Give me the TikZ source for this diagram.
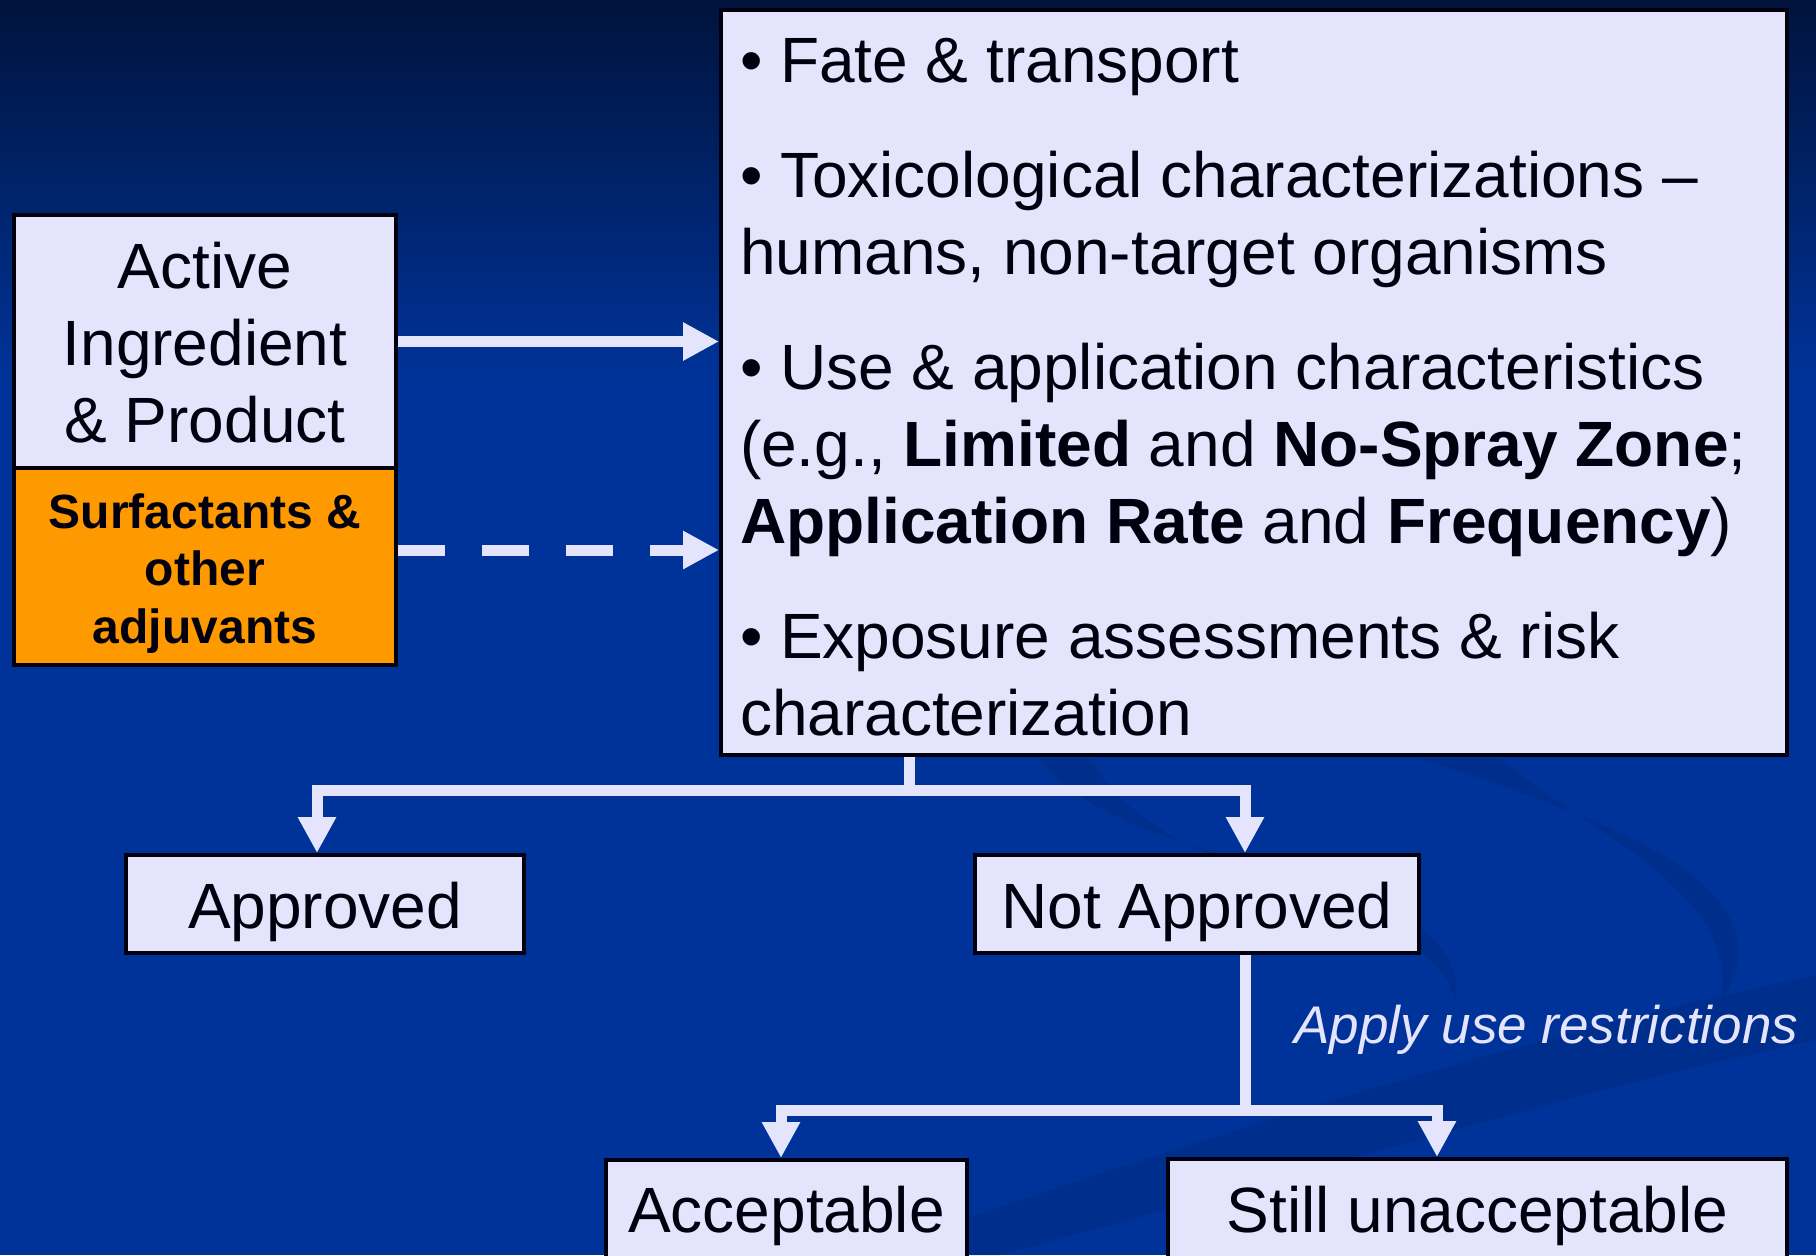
\documentclass[tikz,border=0pt]{standalone}
\usepackage{fontspec}
\setmainfont{Liberation Sans}
\usetikzlibrary{arrows.meta,calc}
\definecolor{bgtop}{HTML}{00133C}
\definecolor{bgmain}{HTML}{003399}
\definecolor{swirl}{HTML}{002D88}
\definecolor{boxfill}{HTML}{E4E4FC}
\definecolor{orangefill}{HTML}{FF9900}
\definecolor{ink}{HTML}{00000E}
\definecolor{conn}{HTML}{E4E4FC}
\begin{document}
\begin{tikzpicture}[x=0.5pt,y=-0.5pt,
  box/.style={draw=ink, line width=2pt, fill=boxfill, inner ysep=0pt, inner xsep=0pt, anchor=north, text=ink,
              font=\fontsize{32}{38.5}\selectfont},
  conline/.style={draw=conn, line width=5.5pt, line join=miter},
  arr/.style={conline, -{Triangle[length=18pt,width=18pt]}},
  dasharr/.style={arr, dash pattern=on 23.5pt off 18.5pt}
]
% background
\useasboundingbox (0,0) rectangle (1816,1255);
\shade[top color=bgtop, bottom color=bgmain] (0,0) rectangle (1816,380);
\fill[bgmain] (0,379) rectangle (1816,1255);
% decorative swirls
\fill[swirl, opacity=0.75] (860,1255) .. controls (1250,1120) and (1550,1030) .. (1816,975) -- (1816,1040) .. controls (1560,1095) and (1280,1180) .. (1000,1255) -- cycle;
\fill[swirl, opacity=0.7] (1040,758) .. controls (1120,880) and (1480,860) .. (1455,1005)
   .. controls (1445,900) and (1160,890) .. (1090,758) -- cycle;
\fill[swirl, opacity=0.7] (1420,758) .. controls (1600,820) and (1800,880) .. (1720,1005)
   .. controls (1745,890) and (1580,830) .. (1500,758) -- cycle;

% boxes
\node[box, anchor=north west, minimum width=533pt, text height=36pt, text depth=336.5pt] (crit) at (719,8)
  {\parbox[t]{514pt}{\raggedright\fontsize{32}{38.5}\selectfont
   •\ Fate \& transport\\[19pt]
   •\ Toxicological characterizations –\\
   humans, non-target organisms\\[19pt]
   •\ Use \& application characteristics\\
   (e.g., \textbf{Limited} and \textbf{No-Spray Zone};\\
   \textbf{Application Rate} and \textbf{Frequency})\\[19pt]
   •\ Exposure assessments \& risk\\
   characterization}};

\node[box, minimum width=191pt, text height=36.5pt, text depth=90pt] (ai) at (205,213)
  {\parbox[t]{191pt}{\centering\fontsize{32}{38.5}\selectfont Active\\Ingredient\\\& Product}};
\node[box, fill=orangefill, minimum width=191pt, text height=30pt, text depth=68.5pt] (surf) at (205,466)
  {\parbox[t]{191pt}{\centering\fontsize{24}{28.75}\selectfont\bfseries Surfactants \&\\other\\adjuvants}};

\node[box, minimum width=199pt, text height=36.5pt, text depth=12.5pt] (appr) at (325,853) {Approved};
\node[box, minimum width=222pt, text height=36.5pt, text depth=12.5pt] (notappr) at (1197,853) {Not Approved};
\node[box, minimum width=180.5pt, text height=36pt, text depth=50pt] (acc) at (786.5,1158) {Acceptable};
\node[box, minimum width=309.5pt, text height=36.5pt, text depth=50pt] (still) at (1477.5,1157) {Still unacceptable};

\node[anchor=base west, inner sep=0pt, text=boxfill, font=\fontsize{26.5}{32}\selectfont\itshape] (restr) at (1294,1043) {Apply use restrictions};

% connectors
\draw[arr] (ai.east) -- (ai.east -| crit.west);
\coordinate (dstart) at ($(surf.east)+(0,-16.5)$);
\draw[dasharr] (dstart) -- (dstart -| crit.west);

\coordinate (b1) at (909,790);
\coordinate (b1L) at (317,790);
\coordinate (b1R) at (1245,790);
\draw[conline] (crit.south -| b1) -- (b1);
\draw[arr] (b1) -- (b1L) -- (b1L |- appr.north);
\draw[arr] (b1) -- (b1R) -- (b1R |- notappr.north);

\coordinate (b2) at (1245,1110);
\coordinate (b2L) at (781,1110);
\coordinate (b2R) at (1437,1110);
\draw[conline] (notappr.south -| b2) -- (b2);
\draw[arr] (b2) -- (b2L) -- (b2L |- acc.north);
\draw[arr] (b2) -- (b2R) -- (b2R |- still.north);
\end{tikzpicture}
\end{document}
